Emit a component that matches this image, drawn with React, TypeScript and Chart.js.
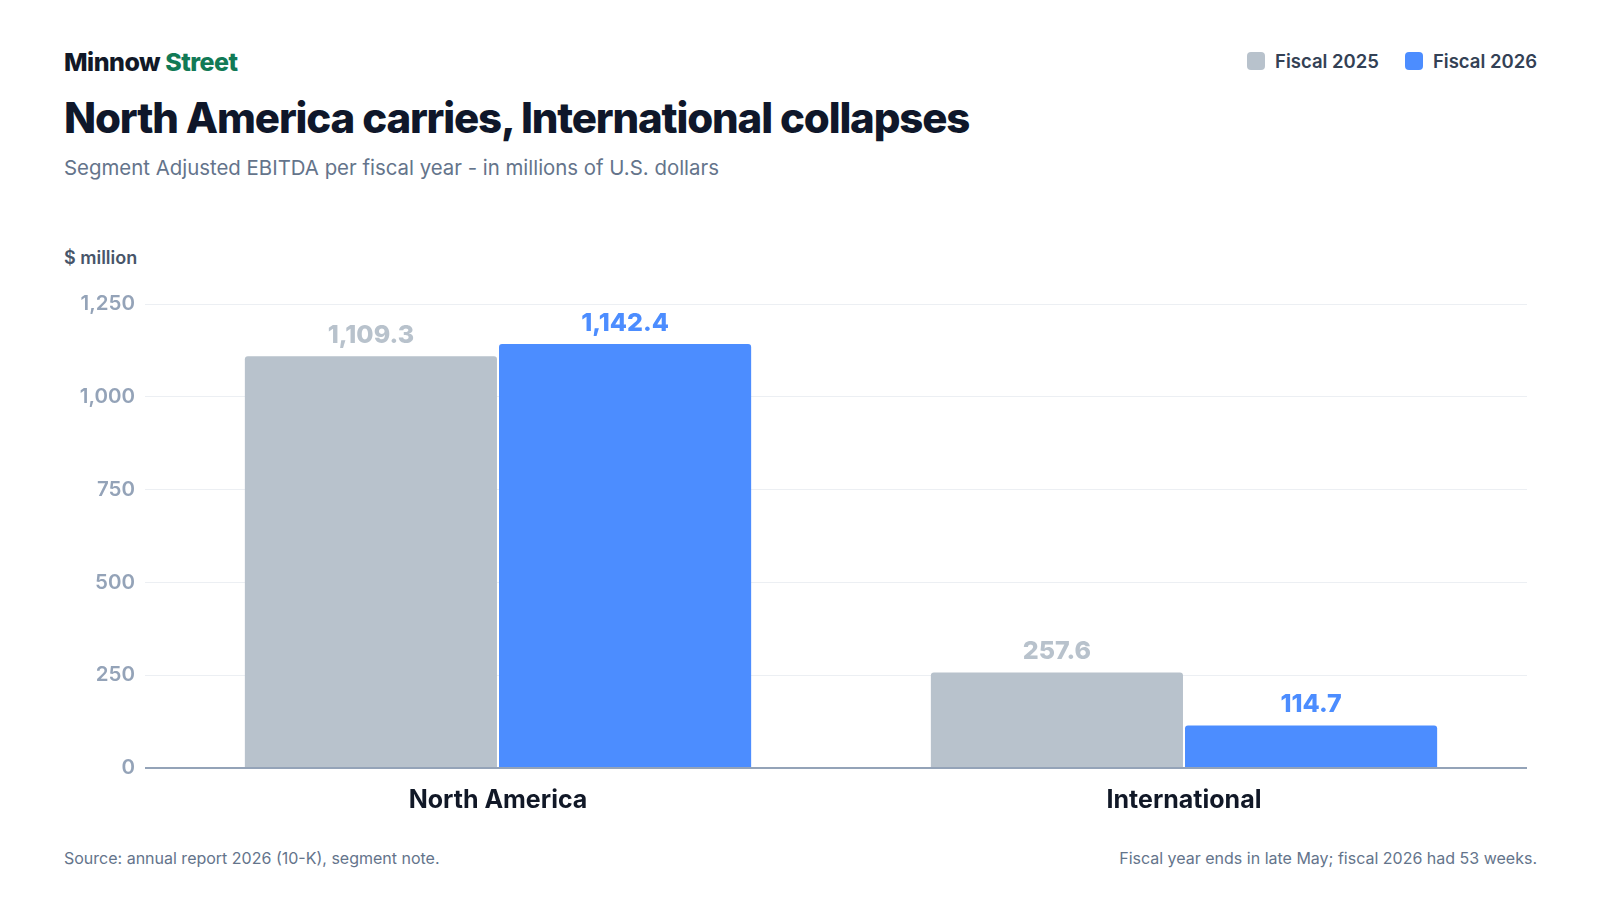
import React, { useEffect, useRef } from "react";
import { Chart, registerables } from "chart.js";

Chart.register(...registerables);

const categories = ["North America", "International"];
const seriesLabels = ["Fiscal 2025", "Fiscal 2026"];
const fiscal2025 = [1109.3, 257.6];
const fiscal2026 = [1142.4, 114.7];
const yTickValues = [0, 250, 500, 750, 1000, 1250];
const seriesColors = ["#b8c2cc", "#4c8dff"];

const FONT = "Inter, 'Noto Sans', sans-serif";

const fmt1 = (v: number) =>
  v.toLocaleString("en-US", { minimumFractionDigits: 1, maximumFractionDigits: 1 });

const valueLabels = {
  id: "valueLabels",
  afterDatasetsDraw(chart: any) {
    const ctx = chart.ctx;
    ctx.save();
    ctx.font = `800 25px ${FONT}`;
    ctx.textAlign = "center";
    ctx.textBaseline = "alphabetic";
    chart.data.datasets.forEach((ds: any, di: number) => {
      const meta = chart.getDatasetMeta(di);
      meta.data.forEach((bar: any, i: number) => {
        ctx.fillStyle = ds.backgroundColor;
        ctx.fillText(fmt1(ds.data[i]), bar.x, bar.y - 13);
      });
    });
    ctx.restore();
  },
};

export default function App() {
  const canvasRef = useRef<HTMLCanvasElement | null>(null);

  useEffect(() => {
    if (!canvasRef.current) return;
    const chart = new Chart(canvasRef.current, {
      type: "bar",
      data: {
        labels: categories,
        datasets: [
          {
            label: seriesLabels[0],
            data: fiscal2025,
            backgroundColor: seriesColors[0],
            borderRadius: 3,
            borderSkipped: "start",
            categoryPercentage: 0.741,
            barPercentage: 0.992,
          },
          {
            label: seriesLabels[1],
            data: fiscal2026,
            backgroundColor: seriesColors[1],
            borderRadius: 3,
            borderSkipped: "start",
            categoryPercentage: 0.741,
            barPercentage: 0.992,
          },
        ],
      },
      options: {
        animation: false,
        responsive: true,
        maintainAspectRatio: false,
        layout: { padding: { top: 24, right: 9, left: 0, bottom: 0 } },
        plugins: {
          legend: { display: false },
          tooltip: { enabled: false },
        },
        scales: {
          x: {
            grid: { display: false, drawTicks: false },
            border: { display: false },
            ticks: {
              color: "#111827",
              font: { family: FONT, size: 25, weight: "bold" },
              padding: 17,
            },
            afterFit(scale: any) {
              scale.height = 62;
            },
          },
          y: {
            min: 0,
            max: 1250,
            border: { display: false },
            grid: {
              color: (c: any) => (c.tick && c.tick.value === 0 ? "#94a3b8" : "#eceff3"),
              lineWidth: (c: any) => (c.tick && c.tick.value === 0 ? 2 : 1),
              tickLength: 10,
              drawTicks: true,
            },
            ticks: {
              color: "#94a3b8",
              font: { family: FONT, size: 20.5, weight: "600" },
              padding: 10,
              callback: (v: any) => Number(v).toLocaleString("en-US"),
            },
            afterBuildTicks(scale: any) {
              scale.ticks = yTickValues.map((v) => ({ value: v }));
            },
            afterFit(scale: any) {
              scale.width = 91;
            },
          },
        },
      },
      plugins: [valueLabels],
    });
    return () => chart.destroy();
  }, []);

  const abs = (o: React.CSSProperties): React.CSSProperties => ({
    position: "absolute",
    lineHeight: 1,
    whiteSpace: "nowrap",
    fontFamily: FONT,
    margin: 0,
    ...o,
  });

  return (
    <div style={{ position: "absolute", left: 0, top: 0, width: 1600, height: 900, background: "#ffffff", overflow: "hidden" }}>
      <div style={abs({ left: 64, top: 50, fontSize: 25, fontWeight: 800, color: "#111827", letterSpacing: "-0.5px" })}>
        Minnow <span style={{ color: "#127a56" }}>Street</span>
      </div>
      <div style={abs({ left: 64, top: 97, fontSize: 42, fontWeight: 800, color: "#0f172a", letterSpacing: "-1.15px" })}>
        North America carries, International collapses
      </div>
      <div style={abs({ left: 64, top: 158, fontSize: 20.4, fontWeight: 400, color: "#64748b" })}>
        Segment Adjusted EBITDA per fiscal year - in millions of U.S. dollars
      </div>
      <div style={abs({ right: 63, top: 52, display: "flex", alignItems: "center", gap: 26, fontSize: 18.5, fontWeight: 600, color: "#334155" })}>
        {seriesLabels.map((s, i) => (
          <div key={s} style={{ display: "flex", alignItems: "center", gap: 10 }}>
            <span style={{ display: "inline-block", width: 18, height: 18, borderRadius: 4, background: seriesColors[i] }} />
            <span>{s}</span>
          </div>
        ))}
      </div>
      <div style={abs({ left: 64, top: 249, fontSize: 18, fontWeight: 600, color: "#475569" })}>$ million</div>
      <div style={{ position: "absolute", left: 64, top: 280, width: 1472, height: 550 }}>
        <canvas ref={canvasRef} />
      </div>
      <div style={abs({ left: 64, top: 850, fontSize: 16, fontWeight: 400, color: "#64748b" })}>
        Source: annual report 2026 (10-K), segment note.
      </div>
      <div style={abs({ right: 63, top: 850, fontSize: 16, fontWeight: 400, color: "#64748b" })}>
        Fiscal year ends in late May; fiscal 2026 had 53 weeks.
      </div>
    </div>
  );
}
